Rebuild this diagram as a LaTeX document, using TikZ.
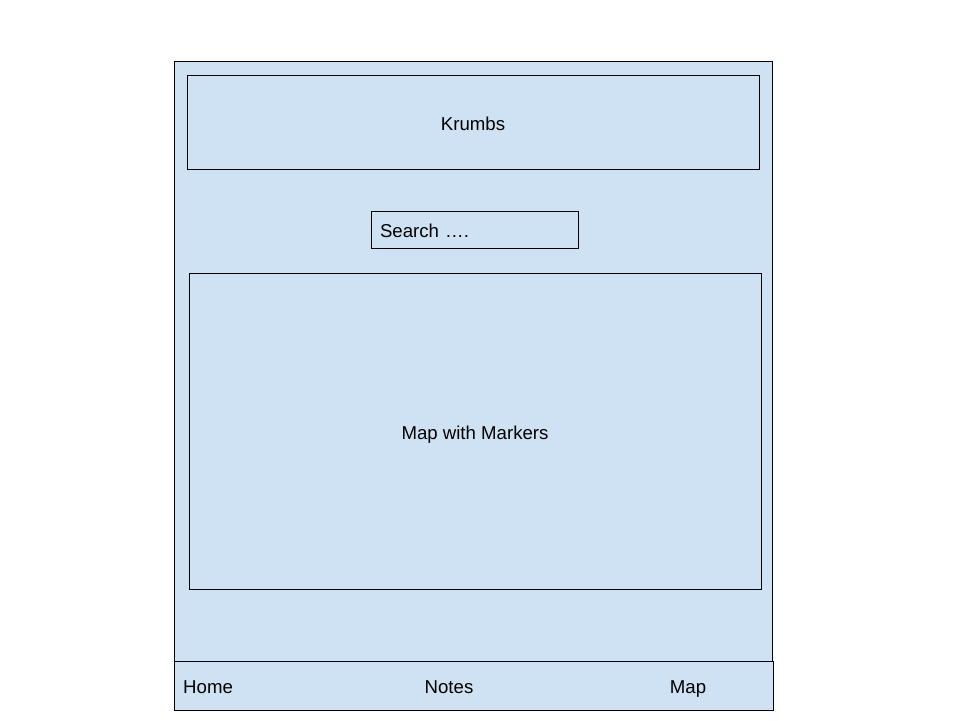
\documentclass[tikz,border=0pt]{standalone}
\usepackage{fontspec}
\setmainfont{Liberation Sans}
\usepackage{tikz}
\usetikzlibrary{positioning}
\definecolor{krumbblue}{HTML}{CFE2F3}
\tikzset{
panel/.style={draw=black,fill=krumbblue,line width=0.7pt,inner sep=0pt},
uitext/.style={font=\fontsize{15.9}{19}\selectfont,text height=14pt,text depth=0pt},
navitem/.style={font=\fontsize{15.9}{19}\selectfont,inner sep=0pt,anchor=base}
}
\begin{document}
\begin{tikzpicture}[x=0.03cm,y=-0.03cm]
\useasboundingbox (0,0) rectangle (960,720);
\node[panel,minimum width=17.94cm,minimum height=18cm] (phone) at (473,361) {};
\node[panel,uitext,minimum width=17.16cm,minimum height=2.82cm] (header) at (473,122) {Krumbs};
\node[panel,uitext,minimum height=1.11cm,text width=5.67cm,inner xsep=0.27cm,align=left] (search) at (474.5,229.5) {Search ….};
\node[panel,uitext,minimum width=17.16cm,minimum height=9.48cm] (map) at (475,431) {Map with Markers};
\node[panel,minimum width=17.97cm,minimum height=1.47cm] (navbar) at (473.5,685.5) {};
% nav entries
\node[navitem,anchor=base west] (home) at (183,693) {Home};
\node[navitem] (notes) at (449,693) {Notes};
\node[navitem] (mapnav) at (688,693) {Map};
\end{tikzpicture}
\end{document}
